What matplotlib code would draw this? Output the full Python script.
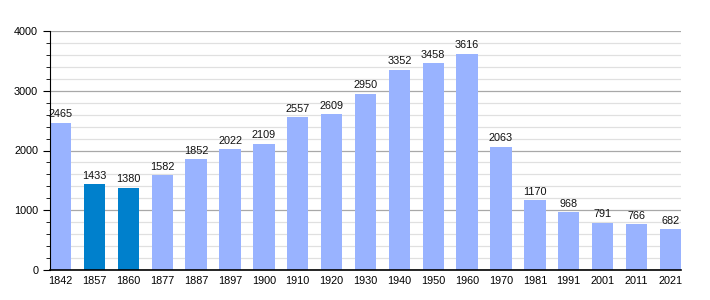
import matplotlib
matplotlib.use("Agg")
import matplotlib.pyplot as plt
from matplotlib.ticker import MultipleLocator

years = ["1842", "1857", "1860", "1877", "1887", "1897", "1900", "1910", "1920", "1930",
         "1940", "1950", "1960", "1970", "1981", "1991", "2001", "2011", "2021"]
population = [2465, 1433, 1380, 1582, 1852, 2022, 2109, 2557, 2609, 2950,
              3352, 3458, 3616, 2063, 1170, 968, 791, 766, 682]
highlight = ["1857", "1860"]

plt.rcParams['font.family'] = ['Liberation Sans', 'DejaVu Sans']

fig = plt.figure(figsize=(7.1, 3.0), dpi=100)
ax = fig.add_axes([50/710, 30/300, 631/710, 239/300])

width = 0.63
colors = ['#0080cc' if y in highlight else '#99b3ff' for y in years]
x = list(range(len(years)))
ax.bar(x, population, width=width, color=colors, zorder=3)
for xi, v in zip(x, population):
    ax.text(xi, v + 60, str(v), ha='center', va='bottom', fontsize=7.8, color='#111111', zorder=4)

ax.set_xlim(-width/2, len(years) - 1 + width/2)
ax.set_ylim(0, 4000)
ax.set_xticks(x)
ax.set_xticklabels(years, fontsize=7.8)
ax.tick_params(axis='x', length=0, pad=4)
ax.yaxis.set_major_locator(MultipleLocator(1000))
ax.yaxis.set_minor_locator(MultipleLocator(200))
ax.tick_params(axis='y', which='major', length=5, labelsize=7.8, direction='out')
ax.tick_params(axis='y', which='minor', length=3, direction='out')
ax.grid(axis='y', which='major', color='#a8a8a8', linewidth=0.9, zorder=0)
ax.grid(axis='y', which='minor', color='#e0e0e0', linewidth=0.9, zorder=0)
for s in ['top', 'right']:
    ax.spines[s].set_visible(False)
for s in ['left', 'bottom']:
    ax.spines[s].set_color('black')
    ax.spines[s].set_zorder(5)
ax.spines['bottom'].set_linewidth(1.2)

fig.savefig('out.png', dpi=100)
